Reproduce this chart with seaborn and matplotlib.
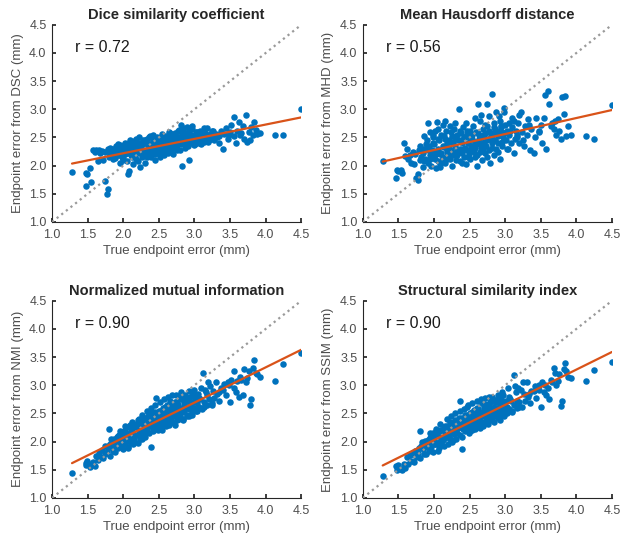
import numpy as np
import pandas as pd
import matplotlib
matplotlib.use("Agg")
import matplotlib.pyplot as plt
import seaborn as sns

# true endpoint error (mm), shared by all four panels
true_err = [
    1.28, 1.47, 1.48, 1.49, 1.53, 1.55, 1.58, 1.60, 1.62, 1.64,
    1.66, 1.68, 1.70, 1.72, 1.74, 1.75, 1.77, 1.78, 1.79, 1.80,
    1.81, 1.82, 1.84, 1.85, 1.86, 1.87, 1.88, 1.90, 1.91, 1.92,
    1.93, 1.94, 1.95, 1.96, 1.97, 1.98, 1.99, 2.00, 2.01, 2.02,
    2.03, 2.04, 2.05, 2.06, 2.07, 2.08, 2.09, 2.10, 2.11, 2.12,
    2.13, 2.14, 2.15, 2.16, 2.17, 2.18, 2.19, 2.20, 2.21, 2.22,
    2.23, 2.24, 2.25, 2.26, 2.27, 2.28, 2.29, 2.30, 2.31, 2.32,
    2.33, 2.34, 2.35, 2.36, 2.37, 2.38, 2.39, 2.40, 2.41, 2.42,
    2.43, 2.44, 2.45, 2.46, 2.47, 2.48, 2.49, 2.50, 2.51, 2.52,
    2.53, 2.54, 2.55, 2.56, 2.57, 2.58, 2.59, 2.60, 2.61, 2.62,
    2.63, 2.64, 2.65, 2.66, 2.67, 2.68, 2.69, 2.70, 2.71, 2.72,
    2.73, 2.74, 2.75, 2.76, 2.77, 2.78, 2.79, 2.80, 2.81, 2.82,
    2.83, 2.84, 2.85, 2.86, 2.87, 2.88, 2.90, 2.91, 2.92, 2.93,
    2.94, 2.95, 2.96, 2.97, 2.98, 3.00, 3.01, 3.02, 3.03, 3.05,
    3.06, 3.08, 3.10, 3.12, 3.13, 3.15, 3.17, 3.18, 3.20, 3.22,
    3.24, 3.26, 3.28, 3.30, 3.32, 3.35, 3.37, 3.40, 3.42, 3.44,
    3.47, 3.50, 3.52, 3.55, 3.56, 3.58, 3.60, 3.62, 3.64, 3.68,
    3.70, 3.72, 3.74, 3.76, 3.78, 3.80, 3.82, 3.84, 3.86, 3.92,
    4.13, 4.25, 4.50,
    1.83, 1.89, 1.95, 1.99, 2.03, 2.06, 2.09, 2.12, 2.15, 2.18,
    2.21, 2.24, 2.27, 2.30, 2.33, 2.36, 2.39, 2.42, 2.45, 2.48,
    2.51, 2.54, 2.57, 2.60, 2.63, 2.66, 2.69, 2.72, 2.75, 2.78,
    2.81, 2.84, 2.87, 2.90, 2.93, 2.96, 2.99, 3.04, 3.09, 3.14,
    3.19, 3.25, 1.86, 1.92, 1.98, 2.02, 2.06, 2.10, 2.14, 2.18,
    2.22, 2.26, 2.30, 2.34, 2.38, 2.42, 2.46, 2.50, 2.54, 2.58,
    2.62, 2.66, 2.70, 2.74, 2.78, 2.82, 2.86, 2.90, 2.94, 2.99,
    3.07, 3.16, 3.34, 3.48, 3.66, 3.88,
]

dsc_err = [
    1.89, 1.64, 1.87, 1.85, 1.96, 1.71, 2.28, 2.24, 2.28, 2.08,
    2.27, 2.22, 2.26, 2.10, 2.25, 1.72, 1.49, 1.58, 2.30, 2.15,
    2.32, 2.20, 2.26, 2.12, 2.30, 2.22, 2.28, 2.35, 2.18, 2.28,
    2.38, 2.18, 2.27, 2.05, 2.31, 2.22, 2.35, 2.14, 2.26, 2.40,
    2.20, 2.30, 2.08, 1.86, 2.36, 1.90, 2.28, 2.42, 2.18, 2.32,
    2.02, 2.25, 2.44, 2.20, 2.35, 2.12, 2.28, 2.40, 2.22, 2.50,
    2.30, 1.97, 2.38, 2.15, 2.33, 2.45, 2.25, 2.36, 2.05, 2.42,
    2.28, 2.48, 2.20, 2.35, 2.30, 2.52, 2.15, 2.40, 2.26, 2.45,
    2.32, 2.10, 2.38, 2.28, 2.50, 2.35, 2.22, 2.44, 2.30, 2.38,
    2.25, 2.52, 2.35, 2.42, 2.18, 2.46, 2.32, 2.40, 2.28, 2.50,
    2.36, 2.60, 2.42, 2.30, 2.45, 2.55, 2.38, 2.20, 2.48, 2.40,
    2.58, 2.32, 2.45, 2.36, 2.62, 2.42, 2.50, 2.28, 2.72, 2.00,
    2.55, 2.46, 2.38, 2.60, 2.50, 2.42, 2.56, 2.35, 2.62, 2.10,
    2.48, 2.55, 2.40, 2.65, 2.45, 2.52, 2.38, 2.60, 2.48, 2.55,
    2.40, 2.62, 2.47, 2.55, 2.42, 2.58, 2.48, 2.66, 2.45, 2.56,
    2.52, 2.62, 2.46, 2.56, 2.50, 2.40, 2.62, 2.30, 2.56, 2.66,
    2.48, 2.60, 2.72, 2.52, 2.86, 2.40, 2.62, 2.78, 2.55, 2.70,
    2.48, 2.90, 2.42, 2.60, 2.45, 2.68, 2.55, 2.78, 2.64, 2.58,
    2.55, 2.55, 3.00,
    2.24, 2.14, 2.36, 2.10, 2.38, 2.22, 2.45, 2.15, 2.30, 2.48,
    2.08, 2.40, 2.20, 2.46, 2.15, 2.50, 2.26, 2.55, 2.20, 2.46,
    2.16, 2.56, 2.28, 2.52, 2.22, 2.58, 2.30, 2.56, 2.28, 2.64,
    2.38, 2.66, 2.32, 2.68, 2.40, 2.70, 2.36, 2.60, 2.38, 2.66,
    2.42, 2.62, 2.20, 2.28, 2.16, 2.34, 2.26, 2.32, 2.36, 2.24,
    2.34, 2.28, 2.30, 2.38, 2.24, 2.36, 2.42, 2.32, 2.44, 2.36,
    2.44, 2.40, 2.48, 2.44, 2.50, 2.46, 2.52, 2.48, 2.55, 2.50,
    2.55, 2.48, 2.52, 2.55, 2.58, 2.56,
]

mhd_err = [
    2.09, 1.78, 1.92, 1.90, 1.93, 1.87, 2.40, 2.17, 2.30, 2.12,
    2.18, 2.05, 2.25, 2.02, 2.20, 1.78, 1.75, 1.85, 2.27, 2.10,
    2.35, 2.15, 2.22, 1.98, 2.52, 2.30, 2.12, 2.45, 2.05, 2.75,
    2.35, 2.18, 2.60, 2.00, 2.28, 2.50, 2.15, 2.38, 2.62, 2.22,
    1.95, 2.78, 2.08, 2.30, 2.45, 1.98, 2.20, 2.55, 2.10, 2.72,
    2.15, 2.33, 2.48, 2.05, 2.62, 2.25, 2.40, 2.18, 2.30, 2.70,
    2.12, 2.28, 2.52, 2.00, 2.42, 2.65, 2.22, 2.35, 2.10, 2.55,
    2.18, 2.45, 3.00, 2.30, 2.08, 2.58, 2.22, 2.40, 2.68, 2.15,
    2.32, 2.50, 2.02, 2.28, 2.62, 2.40, 2.20, 2.48, 2.12, 2.35,
    2.55, 2.30, 2.70, 2.25, 2.42, 2.15, 2.60, 2.00, 2.38, 3.10,
    2.48, 2.25, 2.80, 2.32, 2.52, 2.10, 2.65, 2.42, 2.22, 2.58,
    2.35, 2.70, 3.10, 2.48, 2.28, 2.60, 2.05, 2.52, 2.40, 3.28,
    2.58, 2.18, 2.75, 2.45, 2.30, 2.62, 2.40, 2.88, 2.55, 2.12,
    2.68, 2.35, 2.60, 2.50, 3.03, 2.72, 2.45, 2.62, 2.30, 2.75,
    2.55, 2.40, 2.68, 2.80, 2.22, 2.62, 2.50, 2.75, 2.40, 2.95,
    2.60, 2.35, 2.70, 2.55, 2.82, 2.28, 2.65, 2.22, 2.50, 2.85,
    2.60, 2.72, 2.40, 2.85, 3.25, 2.30, 3.33, 3.10, 2.70, 2.65,
    2.80, 2.55, 2.82, 2.62, 2.48, 3.22, 2.92, 3.23, 2.52, 2.55,
    2.53, 2.47, 3.07,
    2.30, 2.38, 2.12, 2.55, 2.20, 2.65, 2.02, 2.35, 2.80, 2.12,
    2.45, 2.60, 2.18, 2.75, 2.28, 2.62, 2.05, 2.50, 2.75, 2.15,
    2.62, 2.35, 2.85, 2.18, 2.55, 2.90, 2.30, 2.72, 2.15, 2.88,
    2.32, 2.68, 2.95, 2.25, 2.80, 2.42, 2.95, 2.30, 2.85, 2.48,
    2.90, 2.45, 2.08, 2.28, 2.40, 2.12, 2.48, 2.22, 2.52, 2.28,
    2.42, 2.20, 2.50, 2.25, 2.45, 2.30, 2.55, 2.28, 2.48, 2.32,
    2.58, 2.38, 2.55, 2.45, 2.62, 2.48, 2.65, 2.52, 2.70, 2.58,
    2.62, 2.55, 2.72, 2.62, 2.75, 2.70,
]

nmi_err = [
    1.44, 1.62, 1.58, 1.65, 1.55, 1.60, 1.63, 1.56, 1.75, 1.68,
    1.80, 1.73, 1.85, 1.70, 1.92, 1.78, 1.82, 1.88, 1.93, 2.22,
    1.75, 1.96, 1.90, 2.00, 1.84, 2.05, 1.98, 1.94, 2.08, 2.02,
    1.88, 2.12, 2.00, 1.92, 2.15, 2.05, 1.86, 2.10, 2.18, 1.98,
    2.20, 2.03, 2.14, 2.08, 1.90, 2.25, 2.12, 2.00, 2.24, 2.06,
    2.18, 1.95, 2.28, 2.10, 2.20, 2.32, 2.15, 1.98, 2.26, 2.40,
    2.12, 2.22, 2.30, 2.05, 2.35, 2.18, 2.42, 2.25, 2.08, 2.38,
    2.20, 2.30, 2.45, 2.15, 2.50, 2.32, 1.90, 2.38, 2.28, 2.42,
    2.22, 2.52, 2.35, 2.78, 2.30, 2.45, 2.20, 2.40, 2.55, 2.32,
    2.25, 2.48, 2.38, 2.60, 2.30, 2.45, 2.52, 2.35, 2.65, 2.42,
    2.58, 2.30, 2.48, 2.72, 2.40, 2.55, 2.35, 2.62, 2.50, 2.70,
    2.45, 2.82, 2.58, 2.38, 2.65, 2.50, 2.75, 2.45, 2.85, 2.60,
    2.52, 2.40, 2.68, 2.55, 2.78, 2.62, 2.48, 2.72, 2.58, 2.45,
    2.80, 2.65, 2.52, 2.88, 2.70, 2.60, 2.78, 2.55, 2.68, 2.85,
    2.62, 2.75, 2.58, 3.22, 2.70, 2.92, 2.65, 2.82, 2.75, 2.98,
    2.68, 2.90, 2.78, 3.05, 2.85, 2.72, 2.95, 2.92, 3.02, 2.82,
    3.05, 2.70, 3.10, 2.95, 3.25, 2.88, 3.08, 2.80, 3.15, 2.82,
    3.28, 3.05, 3.12, 3.25, 2.65, 2.75, 3.30, 3.45, 3.22, 3.15,
    3.08, 3.37, 3.57,
    2.05, 1.82, 2.18, 1.95, 2.28, 1.88, 2.15, 2.35, 2.02, 2.22,
    2.38, 2.05, 2.48, 2.15, 2.55, 2.28, 2.60, 2.18, 2.65, 2.25,
    2.70, 2.20, 2.75, 2.28, 2.80, 2.35, 2.82, 2.30, 2.68, 2.40,
    2.88, 2.38, 2.82, 2.45, 2.90, 2.48, 2.92, 2.55, 2.95, 2.62,
    3.05, 2.65, 1.92, 2.10, 1.98, 2.15, 2.02, 2.30, 2.10, 2.28,
    2.15, 2.38, 2.30, 2.42, 2.28, 2.50, 2.38, 2.55, 2.42, 2.62,
    2.50, 2.65, 2.52, 2.70, 2.58, 2.75, 2.62, 2.78, 2.68, 2.82,
    2.78, 2.88, 2.88, 3.00, 3.10, 3.20,
]

ssim_err = [
    1.39, 1.56, 1.50, 1.58, 1.52, 1.50, 1.60, 1.53, 1.72, 1.60,
    1.77, 1.66, 1.78, 1.64, 1.83, 1.72, 1.75, 1.80, 1.88, 2.18,
    1.70, 1.92, 1.86, 1.95, 1.78, 2.01, 1.94, 1.90, 2.03, 1.97,
    1.84, 2.07, 2.06, 1.90, 2.10, 2.00, 1.82, 2.04, 2.12, 1.95,
    2.18, 1.99, 2.09, 2.00, 1.88, 2.20, 2.06, 1.96, 2.20, 2.02,
    2.13, 1.92, 2.22, 2.06, 2.16, 2.28, 2.10, 1.95, 2.20, 2.35,
    2.05, 2.18, 2.26, 2.00, 2.30, 2.14, 2.38, 2.20, 2.04, 2.35,
    2.16, 2.25, 2.42, 2.12, 2.72, 2.28, 1.86, 2.34, 2.22, 2.38,
    2.18, 2.48, 2.30, 2.62, 2.25, 2.40, 2.15, 2.36, 2.50, 2.28,
    2.20, 2.44, 2.34, 2.56, 2.22, 2.40, 2.48, 2.30, 2.60, 2.38,
    2.52, 2.24, 2.44, 2.68, 2.35, 2.50, 2.30, 2.58, 2.45, 2.78,
    2.40, 2.62, 2.52, 2.32, 2.60, 2.45, 2.70, 2.38, 2.80, 2.55,
    2.48, 2.35, 2.62, 2.50, 2.74, 2.58, 2.42, 2.68, 2.52, 2.38,
    2.75, 2.60, 2.48, 2.82, 2.65, 2.55, 2.72, 2.50, 2.62, 2.80,
    2.58, 2.72, 2.52, 3.18, 2.65, 2.88, 2.60, 2.95, 2.70, 2.92,
    2.62, 2.85, 2.72, 3.05, 2.80, 2.68, 2.90, 2.90, 2.98, 2.78,
    3.00, 2.62, 3.06, 2.88, 3.00, 2.82, 2.95, 2.75, 3.10, 3.30,
    3.22, 3.00, 3.08, 3.20, 2.63, 2.72, 3.28, 3.40, 3.25, 3.12,
    3.07, 3.27, 3.42,
    2.00, 1.78, 2.15, 2.10, 2.22, 1.84, 2.32, 2.05, 2.28, 2.40,
    2.10, 2.45, 2.02, 2.50, 2.25, 2.55, 2.08, 2.58, 2.20, 2.65,
    2.18, 2.68, 2.25, 2.72, 2.30, 2.76, 2.28, 2.66, 2.35, 2.80,
    2.42, 2.74, 2.45, 2.82, 2.50, 2.88, 2.45, 2.95, 2.55, 2.98,
    2.62, 3.05, 1.96, 1.92, 2.15, 1.95, 2.18, 2.00, 2.25, 2.12,
    2.30, 2.18, 2.36, 2.24, 2.42, 2.30, 2.48, 2.35, 2.52, 2.38,
    2.58, 2.45, 2.62, 2.52, 2.66, 2.55, 2.70, 2.60, 2.72, 2.62,
    2.75, 2.72, 2.85, 2.92, 3.05, 3.15,
]

titles = ["Dice similarity coefficient", "Mean Hausdorff distance",
          "Normalized mutual information", "Structural similarity index"]
metrics = ["DSC", "MHD", "NMI", "SSIM"]
r_values = ["0.72", "0.56", "0.90", "0.90"]
estimates = [dsc_err, mhd_err, nmi_err, ssim_err]

BLUE = "#0072BD"
ORANGE = "#D95319"
TEXT = "#4d4d4d"

sns.set_theme(style="ticks")
plt.rcParams["font.family"] = ["Liberation Sans", "DejaVu Sans"]
plt.rcParams.update({
    "xtick.direction": "in", "ytick.direction": "in",
    "xtick.major.size": 3, "ytick.major.size": 3,
    "xtick.color": "#262626", "ytick.color": "#262626",
    "xtick.labelcolor": TEXT, "ytick.labelcolor": TEXT,
    "axes.edgecolor": "#262626", "axes.linewidth": 0.8,
})

fig, axes = plt.subplots(2, 2, figsize=(6.2, 5.4), dpi=100)
fig.subplots_adjust(left=0.084, right=0.987, top=0.954, bottom=0.078,
                    wspace=0.247, hspace=0.40)

ticks = [1.0, 1.5, 2.0, 2.5, 3.0, 3.5, 4.0, 4.5]
for ax, title, metric, r, est in zip(axes.flat, titles, metrics, r_values, estimates):
    df = pd.DataFrame({"true": true_err, "est": est})
    sns.scatterplot(data=df, x="true", y="est", ax=ax, color=BLUE, s=22,
                    linewidth=0, zorder=2)
    # least-squares fit over the data range
    sns.regplot(data=df, x="true", y="est", ax=ax, scatter=False, ci=None,
                line_kws={"color": ORANGE, "lw": 1.6, "zorder": 4})
    ax.plot([1, 4.5], [1, 4.5], ls=":", color="#9a9a9a", lw=1.6, zorder=3)
    ax.set_xlim(1, 4.5)
    ax.set_ylim(1, 4.5)
    ax.set_xticks(ticks)
    ax.set_yticks(ticks)
    ax.set_xticklabels([f"{t:.1f}" for t in ticks], fontsize=9)
    ax.set_yticklabels([f"{t:.1f}" for t in ticks], fontsize=9)
    ax.tick_params(axis="x", pad=5)
    ax.tick_params(axis="y", pad=4)
    ax.set_xlabel("True endpoint error (mm)", fontsize=9.5, color=TEXT, labelpad=3)
    ax.set_ylabel(f"Endpoint error from {metric} (mm)", fontsize=9.5, color=TEXT, labelpad=4)
    ax.set_title(title, fontsize=10.5, fontweight="bold", pad=4)
    ax.text(1.32, 4.1, f"r = {r}", fontsize=11.5, ha="left", va="center", color="#1a1a1a")
    sns.despine(ax=ax)

fig.savefig("out.png", dpi=100)
